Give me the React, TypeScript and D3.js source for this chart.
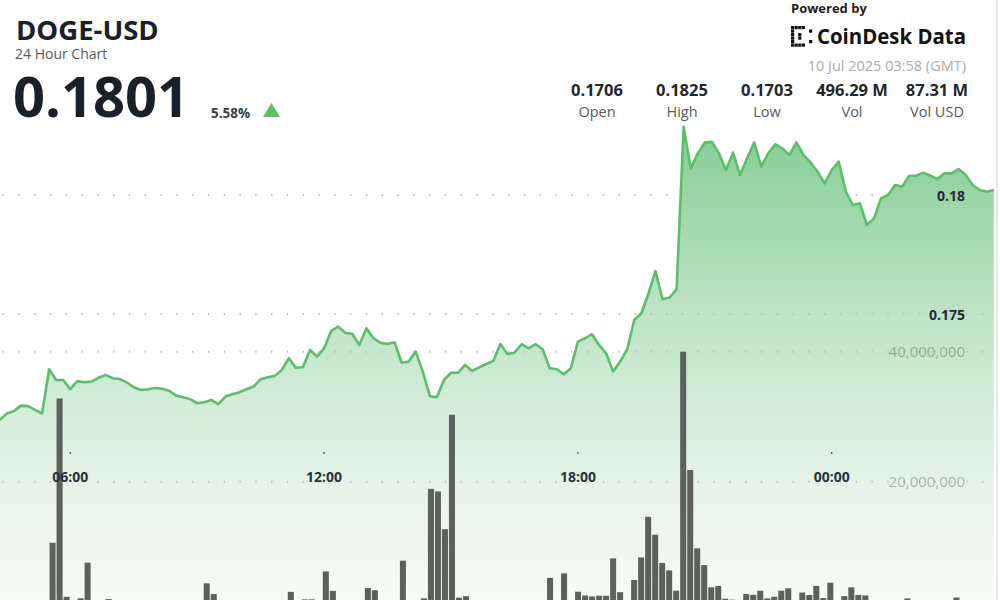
import React from "react";
import * as d3 from "d3";

// ---- data ----
const START_UTC = Date.UTC(2025, 6, 9, 4, 0); // 04:00 GMT, 9 Jul 2025
const STEP_MINUTES = 10;

const prices: number[] = [
  0.17034, 0.17042, 0.17055, 0.17082, 0.17092, 0.17115, 0.17113, 0.17097, 0.17082, 0.17268,
  0.17223, 0.17223, 0.17184, 0.17218, 0.17213, 0.17216, 0.17232, 0.17244, 0.1723, 0.17227,
  0.17213, 0.17192, 0.17181, 0.17184, 0.17189, 0.17186, 0.17178, 0.17157, 0.1715, 0.17142,
  0.17125, 0.17129, 0.17139, 0.17121, 0.17153, 0.17163, 0.17171, 0.17184, 0.17195, 0.17226,
  0.17234, 0.1724, 0.17265, 0.17314, 0.17274, 0.17276, 0.17349, 0.17321, 0.17356, 0.17429,
  0.17447, 0.17421, 0.17416, 0.1737, 0.1744, 0.17398, 0.17379, 0.17374, 0.17381, 0.17295,
  0.173, 0.17342, 0.17258, 0.17155, 0.1715, 0.17223, 0.17253, 0.17253, 0.17286, 0.17261,
  0.17276, 0.1729, 0.17303, 0.17374, 0.17332, 0.17337, 0.17373, 0.17356, 0.17373, 0.17352,
  0.17272, 0.17268, 0.17247, 0.17272, 0.17384, 0.17398, 0.17415, 0.1737, 0.17335, 0.17258,
  0.173, 0.17352, 0.17475, 0.17503, 0.17585, 0.17681, 0.17562, 0.17569, 0.17604, 0.18287,
  0.18112, 0.18175, 0.18221, 0.18224, 0.18175, 0.18105, 0.18178, 0.18084, 0.18154, 0.18221,
  0.18119, 0.18175, 0.18213, 0.18196, 0.18168, 0.18221, 0.18168, 0.18137, 0.18098, 0.18049,
  0.18105, 0.1814, 0.18014, 0.17958, 0.17965, 0.17874, 0.17902, 0.17986, 0.18, 0.18042,
  0.18035, 0.18081, 0.18081, 0.18094, 0.18081, 0.18067, 0.18091, 0.18091, 0.18109, 0.18084,
  0.18042, 0.18021, 0.18014, 0.18021,
];

// volume per 10-minute interval, in millions of DOGE
const volumesM: number[] = [
  1.3, 1.1, 1.4, 1.2, 1.5, 1.3, 1.6, 1.2, 1.5, 10.6,
  32.8, 2.3, 1.6, 2.06, 7.54, 1.4, 1.2, 1.95, 1.5, 1.3,
  1.1, 1.4, 1.2, 1.5, 1.3, 1.6, 1.2, 1.4, 1.3, 1.1,
  1.5, 4.37, 2.72, 1.3, 1.2, 1.4, 1.1, 1.5, 1.3, 1.2,
  1.4, 1.6, 1.3, 3.05, 1.5, 1.9, 1.9, 1.4, 6.2, 3.2,
  1.3, 1.5, 1.2, 1.6, 3.65, 3.3, 1.4, 1.2, 1.5, 7.85,
  1.3, 1.6, 2.06, 18.9, 18.5, 12.7, 30.3, 2.15, 2.4, 1.5,
  1.3, 1.6, 1.2, 1.4, 1.7, 1.3, 1.5, 1.2, 1.6, 1.4,
  5.2, 1.5, 5.9, 1.6, 3.08, 2.5, 2.35, 2.46, 2.46, 8.2,
  3.0, 1.6, 4.88, 8.35, 14.6, 11.85, 7.5, 6.35, 3.23, 40.0,
  21.8, 9.75, 7.18, 3.75, 3.95, 2.0, 1.85, 1.5, 2.72, 2.6,
  3.23, 2.05, 2.3, 3.23, 3.6, 1.6, 2.95, 2.56, 3.97, 2.1,
  4.46, 1.6, 2.4, 3.75, 2.56, 2.5, 1.5, 1.3, 1.7, 1.4,
  1.6, 2.05, 1.4, 1.6, 1.3, 1.5, 1.2, 1.7, 2.18, 1.5,
  1.3, 1.6, 1.4, 1.2,
];

const timeTickHours: number[] = [6, 12, 18, 24];
const priceTicks: number[] = [0.175, 0.18];
const volumeTicks: number[] = [20000000, 40000000];

const statValues: string[] = ["0.1706", "0.1825", "0.1703", "496.29 M", "87.31 M"];
const statLabels: string[] = ["Open", "High", "Low", "Vol", "Vol USD"];

const symbol = "DOGE-USD";
const subtitle = "24 Hour Chart";
const lastPrice = "0.1801";
const changePct = "5.58%";
const timestamp = "10 Jul 2025 03:58 (GMT)";

// ---- component ----
const W = 1000;
const H = 600;
const FONT = "'Open Sans', 'Noto Sans', sans-serif";

export default function App() {
  const times = prices.map((_, i) => new Date(START_UTC + i * STEP_MINUTES * 60000));
  const rows = prices.map((p, i) => ({ t: times[i], p, v: volumesM[i] * 1e6, i }));

  const x = d3
    .scaleUtc()
    .domain([new Date(Date.UTC(2025, 6, 9, 6)), new Date(Date.UTC(2025, 6, 10, 0))])
    .range([70.3, 70.3 + 18 * 42.3]);
  const y = d3.scaleLinear().domain([0.175, 0.18]).range([314, 195]);
  const vx = d3
    .scaleBand<number>()
    .domain(rows.map((r) => r.i))
    .range([-13.5, 994.5])
    .paddingInner(0.14);
  const vy = d3.scaleLinear().domain([0, 40000000]).range([611.7, 351.7]);

  const line = d3
    .line<(typeof rows)[number]>()
    .x((d) => x(d.t))
    .y((d) => y(d.p));
  const area = d3
    .area<(typeof rows)[number]>()
    .x((d) => x(d.t))
    .y0(H + 20)
    .y1((d) => y(d.p));

  const gridY = [...priceTicks.map((t) => y(t)), ...volumeTicks.map((t) => vy(t))];
  const fmtVol = d3.format(",");

  const statCenters = [597, 682, 767, 852, 937];

  // CoinDesk-style dotted logo mark
  const logoCells: [number, number][] = [];
  for (let r = 0; r < 6; r++) logoCells.push([0, r]);
  for (let c = 1; c < 4; c++) {
    logoCells.push([c, 0]);
    logoCells.push([c, 5]);
  }
  logoCells.push([2, 2], [2, 3], [5, 1], [5, 4]);

  return (
    <svg
      width={W}
      height={H}
      style={{ position: "absolute", left: 0, top: 0, background: "#fff", fontFamily: FONT }}
    >
      <defs>
        <linearGradient id="areaFill" gradientUnits="userSpaceOnUse" x1="0" y1="125" x2="0" y2="610">
          <stop offset="0" stopColor="#86cd95" />
          <stop offset="0.4" stopColor="#bfe4c6" />
          <stop offset="0.74" stopColor="#e5f4e7" />
          <stop offset="1" stopColor="#f8fcf8" />
        </linearGradient>
        <clipPath id="plotClip">
          <rect x={0} y={0} width={995} height={H} />
        </clipPath>
      </defs>

      {/* area + line */}
      <g clipPath="url(#plotClip)">
        <path d={area(rows) || ""} fill="url(#areaFill)" />
        {/* grid */}
        {gridY.map((gy, k) => (
          <line
            key={"g" + k}
            x1={2.5}
            x2={995}
            y1={gy}
            y2={gy}
            stroke="#bdbdbd"
            strokeWidth={2}
            strokeDasharray="1.3 14.5"
          />
        ))}
        {/* volume bars */}
        {rows.map((r) => (
          <rect
            key={"v" + r.i}
            x={vx(r.i)}
            y={vy(r.v)}
            width={vx.bandwidth()}
            height={Math.max(0, vy(0) - vy(r.v))}
            fill="#5a625b"
          />
        ))}
        <path d={line(rows) || ""} fill="none" stroke="#5cbd6d" strokeWidth={2.6} strokeLinejoin="round" />
      </g>

      {/* right border */}
      <line x1={997} x2={997} y1={0} y2={H} stroke="#e2e2e2" strokeWidth={1.5} />

      {/* time axis */}
      {timeTickHours.map((h) => {
        const d = new Date(Date.UTC(2025, 6, 9, h));
        const tx = x(d);
        return (
          <g key={"t" + h}>
            <rect x={tx - 0.6} y={452} width={1.2} height={2} fill="#444" />
            <text x={tx} y={482} textAnchor="middle" fontSize={14} fontWeight={700} fill="#2b323d">
              {d3.utcFormat("%H:%M")(d)}
            </text>
          </g>
        );
      })}

      {/* price axis labels */}
      {priceTicks.map((t) => (
        <text key={"p" + t} x={965} y={y(t) + 5.5} textAnchor="end" fontSize={14} fontWeight={700} fill="#232a35">
          {String(t)}
        </text>
      ))}
      {/* volume axis labels */}
      {volumeTicks.map((t) => (
        <text key={"vv" + t} x={965} y={vy(t) + 5.5} textAnchor="end" fontSize={15} fill="#000" fillOpacity={0.3}>
          {fmtVol(t)}
        </text>
      ))}

      {/* header left */}
      <text x={16} y={39.5} fontSize={27.5} fontWeight={700} fill="#18202c">
        {symbol}
      </text>
      <text x={15} y={59} fontSize={14} fill="#555a60">
        {subtitle}
      </text>
      <text x={13} y={117} fontSize={56} fontWeight={700} fill="#18202c">
        {lastPrice}
      </text>
      <text x={211} y={117.5} fontSize={13.5} fontWeight={700} fill="#3a3f45">
        {changePct}
      </text>
      <path d="M263,117 L271.5,103 L280,117 Z" fill="#5cbd6d" />

      {/* header right */}
      <text x={791} y={13} fontSize={13} fontWeight={700} fill="#222">
        Powered by
      </text>
      <g>
        {logoCells.map(([c, r], k) => (
          <rect key={"l" + k} x={791 + c * 3.6} y={26 + r * 3.5} width={3.2} height={3.2} fill="#111" />
        ))}
      </g>
      <text
        x={817}
        y={44}
        fontSize={21}
        fontWeight={700}
        fill="#111"
        textLength={149}
        lengthAdjust="spacingAndGlyphs"
      >
        CoinDesk Data
      </text>
      <text x={966} y={71} textAnchor="end" fontSize={14.5} fill="#ababab">
        {timestamp}
      </text>

      {statValues.map((v, k) => (
        <g key={"s" + k}>
          <text x={statCenters[k]} y={96} textAnchor="middle" fontSize={16.5} fontWeight={700} fill="#1f2630">
            {v}
          </text>
          <text x={statCenters[k]} y={116.5} textAnchor="middle" fontSize={14.5} fill="#555a60">
            {statLabels[k]}
          </text>
        </g>
      ))}
    </svg>
  );
}
